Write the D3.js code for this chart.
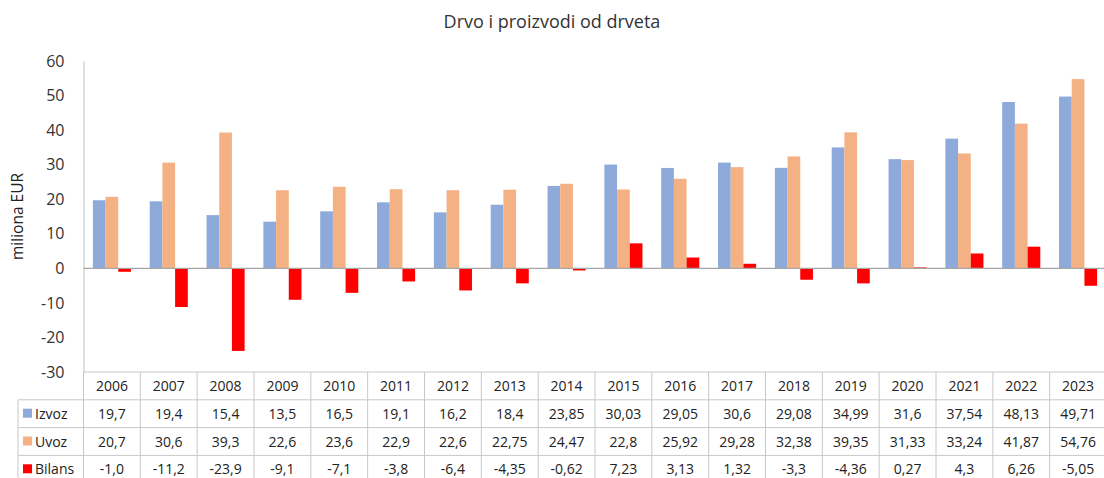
<!DOCTYPE html>
<html>
<head>
<meta charset="utf-8">
<script src="https://cdn.jsdelivr.net/npm/d3@7"></script>
<style>
  body { margin: 0; background: #fff; }
  svg { display: block; font-family: "Open Sans", sans-serif; }
</style>
</head>
<body>
<div id="chart"></div>
<script>
const years = ["2006","2007","2008","2009","2010","2011","2012","2013","2014","2015","2016","2017","2018","2019","2020","2021","2022","2023"];
const izvoz  = [19.7, 19.4, 15.4, 13.5, 16.5, 19.1, 16.2, 18.4, 23.85, 30.03, 29.05, 30.6, 29.08, 34.99, 31.6, 37.54, 48.13, 49.71];
const uvoz   = [20.7, 30.6, 39.3, 22.6, 23.6, 22.9, 22.6, 22.75, 24.47, 22.8, 25.92, 29.28, 32.38, 39.35, 31.33, 33.24, 41.87, 54.76];
const bilans = [-1.0, -11.2, -23.9, -9.1, -7.1, -3.8, -6.4, -4.35, -0.62, 7.23, 3.13, 1.32, -3.3, -4.36, 0.27, 4.3, 6.26, -5.05];
// table labels as printed in the reference (comma decimals)
const izvozTxt  = ["19,7","19,4","15,4","13,5","16,5","19,1","16,2","18,4","23,85","30,03","29,05","30,6","29,08","34,99","31,6","37,54","48,13","49,71"];
const uvozTxt   = ["20,7","30,6","39,3","22,6","23,6","22,9","22,6","22,75","24,47","22,8","25,92","29,28","32,38","39,35","31,33","33,24","41,87","54,76"];
const bilansTxt = ["-1,0","-11,2","-23,9","-9,1","-7,1","-3,8","-6,4","-4,35","-0,62","7,23","3,13","1,32","-3,3","-4,36","0,27","4,3","6,26","-5,05"];
const seriesNames = ["Izvoz", "Uvoz", "Bilans"];
const colors = ["#8eaadb", "#f4b183", "#ff0000"];
const yTicks = [-30, -20, -10, 0, 10, 20, 30, 40, 50, 60];

const W = 1104, H = 478;
const plotLeft = 83.5, plotRight = 1106.5, plotTop = 61, plotBottom = 372;

const svg = d3.select("#chart").append("svg")
    .attr("width", W)
    .attr("height", H);

const x = d3.scaleBand().domain(years).range([plotLeft, plotRight]);
const bw = x.bandwidth();
const groupW = bw * 0.67;
const x1 = d3.scaleBand().domain(seriesNames).range([(bw - groupW) / 2, (bw + groupW) / 2]);

const y = d3.scaleLinear().domain([-30, 60]).range([plotBottom, plotTop]);

// title
svg.append("text")
    .attr("x", 552).attr("y", 28)
    .attr("text-anchor", "middle")
    .attr("font-size", 18)
    .attr("fill", "#333")
    .text("Drvo i proizvodi od drveta");

// y axis label
svg.append("text")
    .attr("transform", "translate(23," + (plotTop + plotBottom) / 2 + ") rotate(-90)")
    .attr("text-anchor", "middle")
    .attr("font-size", 15.5)
    .attr("fill", "#222")
    .text("miliona EUR");

// y axis (plain hyphen for negatives, like the reference)
const yAxis = svg.append("g")
    .attr("transform", "translate(" + plotLeft + ",0)")
    .call(d3.axisLeft(y).tickValues(yTicks).tickSize(0).tickPadding(19).tickFormat(d => String(d)));
yAxis.select(".domain").attr("stroke", "#bfbfbf");
yAxis.selectAll("text").attr("font-size", 16).attr("fill", "#333").attr("font-family", "Open Sans, sans-serif");

// bars
const data = years.map((yr, i) => ({year: yr, vals: [izvoz[i], uvoz[i], bilans[i]]}));
const groups = svg.selectAll("g.grp").data(data).enter().append("g")
    .attr("class", "grp")
    .attr("transform", d => "translate(" + x(d.year) + ",0)");
groups.selectAll("rect").data(d => d.vals.map((v, k) => ({k: k, v: v}))).enter().append("rect")
    .attr("x", d => x1(seriesNames[d.k]))
    .attr("width", x1.bandwidth())
    .attr("y", d => y(Math.max(0, d.v)))
    .attr("height", d => Math.abs(y(d.v) - y(0)))
    .attr("fill", d => colors[d.k]);

// zero line
svg.append("line")
    .attr("x1", plotLeft).attr("x2", plotRight)
    .attr("y1", y(0)).attr("y2", y(0))
    .attr("stroke", "#a6a6a6").attr("stroke-width", 1.2);

// data table
const rowH = 27.8;
const tableTop = plotBottom;
const legendLeft = 18;
const rows = [izvozTxt, uvozTxt, bilansTxt];
const grid = svg.append("g").attr("stroke", "#c8c8c8").attr("stroke-width", 1);

// horizontal lines
grid.append("line").attr("x1", plotLeft).attr("x2", plotRight).attr("y1", tableTop).attr("y2", tableTop);
for (let r = 1; r <= 4; r++) {
  grid.append("line").attr("x1", legendLeft).attr("x2", plotRight)
      .attr("y1", tableTop + r * rowH).attr("y2", tableTop + r * rowH);
}
// vertical lines
years.forEach(yr => {
  grid.append("line").attr("x1", x(yr)).attr("x2", x(yr))
      .attr("y1", tableTop).attr("y2", tableTop + 4 * rowH);
});
grid.append("line").attr("x1", plotRight).attr("x2", plotRight).attr("y1", tableTop).attr("y2", tableTop + 4 * rowH);
grid.append("line").attr("x1", legendLeft).attr("x2", legendLeft).attr("y1", tableTop + rowH).attr("y2", tableTop + 4 * rowH);

// header row
svg.selectAll("text.hdr").data(years).enter().append("text")
    .attr("class", "hdr")
    .attr("x", d => x(d) + bw / 2)
    .attr("y", tableTop + rowH / 2 + 5)
    .attr("text-anchor", "middle")
    .attr("font-size", 14)
    .attr("fill", "#222")
    .text(d => d);

rows.forEach((row, r) => {
  const cy = tableTop + (r + 1) * rowH + rowH / 2;
  svg.append("rect")
      .attr("x", 23).attr("y", cy - 5)
      .attr("width", 9).attr("height", 9)
      .attr("fill", colors[r]);
  svg.append("text")
      .attr("x", 35).attr("y", cy + 5)
      .attr("font-size", 14).attr("fill", "#222")
      .text(seriesNames[r]);
  svg.selectAll("text.r" + r).data(row).enter().append("text")
      .attr("class", "r" + r)
      .attr("x", (d, i) => x(years[i]) + bw / 2)
      .attr("y", cy + 5)
      .attr("text-anchor", "middle")
      .attr("font-size", 14)
      .attr("fill", "#222")
      .text(d => d);
});
</script>
</body>
</html>
